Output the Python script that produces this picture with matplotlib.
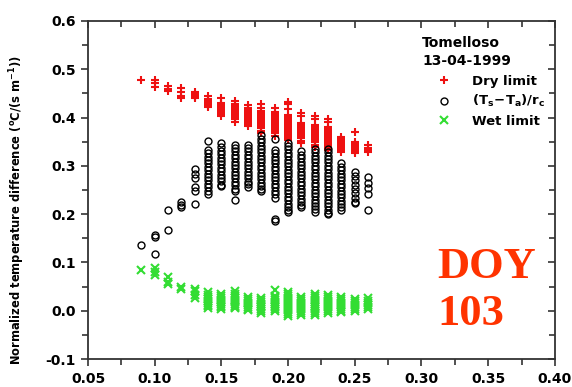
import numpy as np
import matplotlib.pyplot as plt
from matplotlib.ticker import MultipleLocator

plt.rcParams['font.family'] = ['DejaVu Sans']
plt.rcParams['font.weight'] = 'bold'
plt.rcParams['axes.labelweight'] = 'bold'
plt.rcParams['mathtext.default'] = 'bf'

# ---------- data ----------
# x positions of the point columns
x_cols = [0.09, 0.10, 0.11, 0.12, 0.13, 0.14, 0.15, 0.16, 0.17,
          0.18, 0.19, 0.20, 0.21, 0.22, 0.23, 0.24, 0.25, 0.26]

# Dry limit, one list per column
dry_limit = [
    [0.478],
    [0.478, 0.471, 0.464],
    [0.465, 0.460, 0.455],
    [0.462, 0.452, 0.444, 0.440],
    [0.452, 0.448, 0.445, 0.442, 0.440],
    [0.445, 0.438, 0.435, 0.431, 0.427, 0.423, 0.421],
    [0.440, 0.431, 0.427, 0.423, 0.419, 0.415, 0.411, 0.407, 0.404],
    [0.435, 0.428, 0.424, 0.420, 0.416, 0.412, 0.408, 0.404, 0.400, 0.396, 0.391],
    [0.426, 0.419, 0.415, 0.411, 0.407, 0.403, 0.399, 0.395, 0.391, 0.387, 0.382],
    [0.428, 0.420, 0.414, 0.410, 0.406, 0.402, 0.398, 0.394, 0.390, 0.386,
     0.382, 0.378, 0.373, 0.368],
    [0.420, 0.411, 0.407, 0.403, 0.399, 0.395, 0.391, 0.387, 0.383, 0.379,
     0.375, 0.371, 0.367, 0.362],
    [0.433, 0.427, 0.418, 0.405, 0.401, 0.397, 0.393, 0.389, 0.385, 0.381,
     0.377, 0.373, 0.369, 0.365, 0.361, 0.357, 0.353],
    [0.410, 0.403, 0.389, 0.385, 0.381, 0.377, 0.373, 0.369, 0.365, 0.361,
     0.357, 0.352, 0.348],
    [0.404, 0.397, 0.385, 0.381, 0.377, 0.373, 0.369, 0.365, 0.361, 0.357,
     0.353, 0.349, 0.344, 0.340],
    [0.397, 0.390, 0.381, 0.377, 0.373, 0.369, 0.365, 0.361, 0.357, 0.353,
     0.349, 0.345, 0.341, 0.337, 0.333],
    [0.360, 0.356, 0.352, 0.348, 0.344, 0.340, 0.336, 0.332, 0.329],
    [0.370, 0.350, 0.345, 0.341, 0.337, 0.333, 0.329, 0.327],
    [0.343, 0.336, 0.332, 0.328],
]

# (Ts-Ta)/rc, one list per column
ts_ta_rc = [
    [0.137],
    [0.156, 0.152, 0.118],
    [0.208, 0.168],
    [0.226, 0.220, 0.215],
    [0.293, 0.284, 0.274, 0.256, 0.247, 0.222],
    [0.352, 0.333, 0.326, 0.319, 0.312, 0.305, 0.298, 0.291, 0.284,
     0.277, 0.270, 0.263, 0.256, 0.249, 0.241],
    [0.347, 0.338, 0.331, 0.324, 0.317, 0.310, 0.303, 0.296, 0.289,
     0.282, 0.275, 0.268, 0.261, 0.258],
    [0.344, 0.337, 0.330, 0.323, 0.316, 0.309, 0.302, 0.295, 0.288,
     0.281, 0.274, 0.267, 0.260, 0.253, 0.247, 0.230],
    [0.344, 0.337, 0.330, 0.323, 0.316, 0.309, 0.302, 0.295, 0.288,
     0.281, 0.274, 0.267, 0.262, 0.257],
    [0.364, 0.356, 0.349, 0.342, 0.335, 0.328, 0.321, 0.314, 0.307, 0.300,
     0.293, 0.286, 0.279, 0.272, 0.265, 0.258, 0.252, 0.249],
    [0.356, 0.333, 0.326, 0.319, 0.312, 0.305, 0.298, 0.291, 0.284, 0.277,
     0.270, 0.263, 0.256, 0.249, 0.242, 0.234, 0.190, 0.186],
    [0.348, 0.341, 0.334, 0.327, 0.320, 0.313, 0.306, 0.299, 0.292, 0.285,
     0.278, 0.271, 0.264, 0.257, 0.250, 0.243, 0.236, 0.229, 0.222, 0.215,
     0.209, 0.204],
    [0.330, 0.323, 0.316, 0.309, 0.302, 0.295, 0.288, 0.281, 0.274, 0.267,
     0.260, 0.253, 0.246, 0.239, 0.232, 0.225, 0.219, 0.215],
    [0.335, 0.328, 0.321, 0.314, 0.307, 0.300, 0.293, 0.286, 0.279, 0.272,
     0.265, 0.258, 0.251, 0.244, 0.237, 0.230, 0.223, 0.216, 0.210, 0.205],
    [0.335, 0.328, 0.321, 0.314, 0.307, 0.300, 0.293, 0.286, 0.279, 0.272,
     0.265, 0.258, 0.251, 0.244, 0.237, 0.230, 0.223, 0.216, 0.209, 0.203, 0.200],
    [0.305, 0.298, 0.291, 0.284, 0.277, 0.270, 0.263, 0.256, 0.249, 0.242,
     0.235, 0.228, 0.221, 0.214, 0.208],
    [0.288, 0.279, 0.270, 0.261, 0.252, 0.243, 0.234, 0.226, 0.223],
    [0.277, 0.265, 0.254, 0.242, 0.208],
]

# Wet limit, one list per column
wet_limit = [
    [0.085],
    [0.088, 0.080, 0.074],
    [0.070, 0.060, 0.055],
    [0.050, 0.046],
    [0.046, 0.040, 0.033, 0.027],
    [0.038, 0.033, 0.029, 0.025, 0.021, 0.017, 0.013, 0.009, 0.005],
    [0.035, 0.031, 0.027, 0.023, 0.019, 0.015, 0.011, 0.007, 0.003],
    [0.040, 0.035, 0.031, 0.027, 0.023, 0.019, 0.015, 0.011, 0.007, 0.005],
    [0.028, 0.024, 0.020, 0.016, 0.012, 0.008, 0.004, 0.001],
    [0.027, 0.023, 0.019, 0.015, 0.011, 0.007, 0.003, -0.001, -0.004],
    [0.043, 0.031, 0.027, 0.023, 0.019, 0.015, 0.011, 0.007, 0.003, -0.001],
    [0.038, 0.034, 0.030, 0.026, 0.022, 0.018, 0.014, 0.010, 0.006, 0.002,
     -0.002, -0.006, -0.010],
    [0.028, 0.024, 0.020, 0.016, 0.012, 0.008, 0.004, 0.000, -0.004, -0.008],
    [0.035, 0.031, 0.027, 0.023, 0.019, 0.015, 0.011, 0.007, 0.003, -0.001,
     -0.005, -0.009],
    [0.032, 0.028, 0.024, 0.020, 0.016, 0.012, 0.008, 0.004, 0.000, -0.004],
    [0.028, 0.024, 0.020, 0.016, 0.012, 0.008, 0.004, 0.000, -0.003],
    [0.024, 0.020, 0.016, 0.012, 0.008, 0.004, 0.000],
    [0.027, 0.020, 0.016, 0.012, 0.008, 0.004],
]

site_name = "Tomelloso"
obs_date = "13-04-1999"
doy_lines = ["DOY", "103"]


def flatten(cols):
    xs, ys = [], []
    for x, vals in zip(x_cols, cols):
        xs += [x] * len(vals)
        ys += vals
    return np.array(xs), np.array(ys)


fig = plt.figure(figsize=(5.72, 3.87), dpi=100)
ax = fig.add_axes([0.154, 0.072, 0.816, 0.874])

xd, yd = flatten(dry_limit)
xc, yc = flatten(ts_ta_rc)
xw, yw = flatten(wet_limit)

ax.plot(xd, yd, ls='none', marker='+', ms=6, mew=1.5, color='#ee1111',
        label='Dry limit')
ax.plot(xc, yc, ls='none', marker='o', ms=5, mew=1.0, mfc='none', mec='black',
        label=r'$(T_s\!-\!T_a)/r_c$')
ax.plot(xw, yw, ls='none', marker='x', ms=6, mew=1.5, color='#33dd33',
        label='Wet limit')

ax.set_xlim(0.05, 0.40)
ax.set_ylim(-0.1, 0.6)
ax.xaxis.set_major_locator(MultipleLocator(0.05))
ax.xaxis.set_minor_locator(MultipleLocator(0.025))
ax.yaxis.set_major_locator(MultipleLocator(0.1))
ax.yaxis.set_minor_locator(MultipleLocator(0.05))
ax.xaxis.set_major_formatter(plt.FormatStrFormatter('%.2f'))
ax.yaxis.set_major_formatter(plt.FormatStrFormatter('%.1f'))

ax.tick_params(which='both', direction='out', top=True, right=True,
               labelsize=10, color='#333333', width=1.2)
ax.tick_params(which='major', length=5, pad=4)
ax.tick_params(which='minor', length=4)
# top and right ticks point inward
for t in ax.xaxis.get_major_ticks() + ax.xaxis.get_minor_ticks():
    t.tick2line.set_marker(3)
for t in ax.yaxis.get_major_ticks() + ax.yaxis.get_minor_ticks():
    t.tick2line.set_marker(0)
for sp in ax.spines.values():
    sp.set_linewidth(1.3)
    sp.set_color('#333333')

ax.set_ylabel(r'Normalized temperature difference ($^oC/(s\ m^{-1})$)',
              fontsize=8.3)
ax.yaxis.set_label_coords(-0.13, 0.44)

ax.text(0.3004, 0.555, site_name, fontsize=10, va='center', ha='left')
ax.text(0.3004, 0.516, obs_date, fontsize=10, va='center', ha='left')
leg = ax.legend(loc='upper left', bbox_to_anchor=(0.748, 0.84), frameon=False,
                fontsize=9.5, handlelength=1.0, handletextpad=1.6,
                labelspacing=0.4, borderaxespad=0, borderpad=0)

ax.text(0.312, 0.068, doy_lines[0], family='Liberation Serif', fontsize=32,
        fontweight='bold', color='#ff3300', va='baseline', ha='left')
ax.text(0.312, -0.029, doy_lines[1], family='Liberation Serif', fontsize=32,
        fontweight='bold', color='#ff3300', va='baseline', ha='left')

fig.savefig('out.png', dpi=100)
